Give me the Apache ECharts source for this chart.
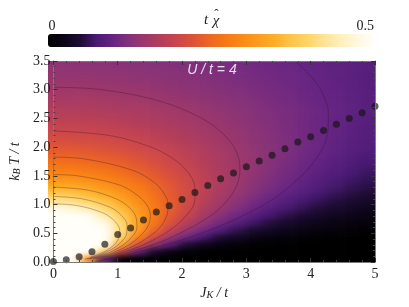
<!DOCTYPE html>
<html><head><meta charset="utf-8">
<script src="https://cdn.jsdelivr.net/npm/echarts@6/dist/echarts.min.js"></script>
<style>
html,body{margin:0;padding:0;background:#fff;}
#wrap{position:relative;width:409px;height:307px;}
#hmClip{position:absolute;left:48px;top:61px;width:327px;height:201px;overflow:hidden;}
#hm{position:absolute;left:-48px;top:-61px;width:409px;height:307px;filter:url(#sm);}
#c{position:absolute;left:0;top:0;width:409px;height:307px;}
</style>
</head><body>
<svg width="0" height="0" style="position:absolute"><filter id="sm" x="-5%" y="-5%" width="110%" height="110%" color-interpolation-filters="sRGB"><feGaussianBlur stdDeviation="5.5 2.6"/></filter></svg>
<div id="wrap"><div id="hmClip"><div id="hm"></div></div><div id="c"></div></div>
<script>
// ---------------- data ----------------
const jCenters = [0.125,0.375,0.625,0.875,1.125,1.375,1.625,1.875,2.125,2.375,2.625,2.875,3.125,3.375,3.625,3.875,4.125,4.375,4.625,4.875];
const tCenters = [0.0625,0.1875,0.3125,0.4375,0.5625,0.6875,0.8125,0.9375,1.0625,1.1875,1.3125,1.4375,1.5625,1.6875,1.8125,1.9375,2.0625,2.1875,2.3125,2.4375,2.5625,2.6875,2.8125,2.9375,3.0625,3.1875,3.3125,3.4375];
// t*chi, one row per T (bottom -> top), columns follow jCenters
const chiRows = [
[3.80,0.786,0.304,0.094,0.0096,0.0003,0,0,0,0,0,0,0,0,0,0,0,0,0,0],
[2.209,1.267,0.684,0.382,0.203,0.100,0.045,0.018,0.0067,0.0022,0.0006,0,0,0,0,0,0,0,0,0],
[1.409,1.097,0.760,0.510,0.334,0.216,0.137,0.085,0.051,0.030,0.017,0.0094,0.0049,0.0025,0.0012,0.0006,0.0003,0.0001,0,0],
[1.024,0.893,0.710,0.537,0.395,0.286,0.205,0.146,0.103,0.072,0.050,0.034,0.023,0.015,0.0098,0.0062,0.0039,0.0024,0.0014,0.0008],
[0.803,0.736,0.632,0.518,0.411,0.320,0.246,0.189,0.144,0.109,0.082,0.062,0.046,0.034,0.025,0.018,0.013,0.0094,0.0066,0.0046],
[0.659,0.622,0.558,0.482,0.403,0.331,0.268,0.216,0.173,0.138,0.110,0.087,0.069,0.054,0.042,0.033,0.026,0.020,0.015,0.012],
[0.559,0.536,0.495,0.442,0.385,0.328,0.276,0.230,0.191,0.158,0.130,0.107,0.088,0.072,0.059,0.048,0.039,0.032,0.026,0.021],
[0.485,0.470,0.442,0.405,0.362,0.318,0.276,0.237,0.202,0.172,0.145,0.123,0.104,0.087,0.073,0.062,0.052,0.043,0.036,0.030],
[0.428,0.418,0.398,0.371,0.339,0.304,0.270,0.237,0.207,0.180,0.156,0.134,0.116,0.099,0.085,0.073,0.063,0.054,0.046,0.039],
[0.384,0.376,0.361,0.341,0.317,0.289,0.262,0.234,0.208,0.184,0.162,0.142,0.125,0.109,0.095,0.083,0.072,0.063,0.055,0.047],
[0.347,0.342,0.331,0.315,0.296,0.274,0.252,0.229,0.206,0.185,0.165,0.147,0.131,0.116,0.103,0.091,0.080,0.071,0.062,0.055],
[0.317,0.313,0.304,0.292,0.277,0.260,0.241,0.222,0.203,0.184,0.167,0.150,0.135,0.121,0.109,0.097,0.087,0.077,0.069,0.062],
[0.292,0.288,0.282,0.272,0.260,0.246,0.230,0.214,0.198,0.182,0.166,0.151,0.138,0.125,0.113,0.102,0.092,0.083,0.075,0.067],
[0.270,0.268,0.262,0.255,0.245,0.233,0.220,0.206,0.192,0.178,0.164,0.151,0.139,0.127,0.116,0.106,0.096,0.087,0.079,0.072],
[0.252,0.250,0.245,0.239,0.231,0.221,0.210,0.198,0.186,0.174,0.162,0.150,0.139,0.128,0.118,0.108,0.099,0.091,0.083,0.076],
[0.235,0.234,0.230,0.225,0.218,0.210,0.201,0.191,0.180,0.170,0.159,0.148,0.138,0.128,0.119,0.110,0.101,0.094,0.086,0.079],
[0.221,0.220,0.217,0.213,0.207,0.200,0.192,0.183,0.174,0.165,0.155,0.146,0.137,0.128,0.119,0.111,0.103,0.095,0.088,0.082],
[0.209,0.207,0.205,0.201,0.196,0.191,0.184,0.176,0.168,0.160,0.152,0.143,0.135,0.127,0.119,0.111,0.104,0.097,0.090,0.084],
[0.197,0.196,0.194,0.191,0.187,0.182,0.176,0.170,0.163,0.155,0.148,0.140,0.133,0.125,0.118,0.111,0.104,0.098,0.091,0.085],
[0.187,0.186,0.185,0.182,0.178,0.174,0.169,0.163,0.157,0.151,0.144,0.137,0.130,0.124,0.117,0.110,0.104,0.098,0.092,0.087],
[0.178,0.177,0.176,0.174,0.170,0.167,0.162,0.157,0.152,0.146,0.140,0.134,0.128,0.122,0.116,0.110,0.104,0.098,0.093,0.087],
[0.170,0.169,0.168,0.166,0.163,0.160,0.156,0.152,0.147,0.142,0.136,0.131,0.125,0.120,0.114,0.109,0.103,0.098,0.093,0.088],
[0.162,0.162,0.161,0.159,0.156,0.154,0.150,0.146,0.142,0.137,0.133,0.128,0.123,0.117,0.112,0.107,0.102,0.097,0.092,0.088],
[0.155,0.155,0.154,0.152,0.150,0.148,0.145,0.141,0.137,0.133,0.129,0.125,0.120,0.115,0.111,0.106,0.101,0.097,0.092,0.088],
[0.149,0.149,0.148,0.146,0.145,0.142,0.139,0.136,0.133,0.129,0.125,0.121,0.117,0.113,0.109,0.104,0.100,0.096,0.091,0.087],
[0.143,0.143,0.142,0.141,0.139,0.137,0.135,0.132,0.129,0.126,0.122,0.118,0.115,0.111,0.107,0.103,0.099,0.095,0.091,0.087],
[0.138,0.137,0.137,0.136,0.134,0.132,0.130,0.128,0.125,0.122,0.119,0.115,0.112,0.108,0.105,0.101,0.097,0.094,0.090,0.086],
[0.133,0.133,0.132,0.131,0.130,0.128,0.126,0.124,0.121,0.119,0.116,0.113,0.109,0.106,0.103,0.099,0.096,0.092,0.089,0.086]
];
// contour lines [J, T]
const contour005 = [[5,1.29],[4.8,1.2],[4.33,1.0],[3.79,0.8],[3.18,0.6],[2.47,0.4],[1.916,0.25],[1.3,0.12],[0.87,0.05],[0.7,0]];
const contour010 = [[3.756,3.5],[4.03,3.2],[4.2,2.9],[4.275,2.6],[4.27,2.3],[4.193,2.0],[4.02,1.7],[3.76,1.4],[3.425,1.1],[2.935,0.8],[2.53,0.6],[2.04,0.4],[1.584,0.25],[1.11,0.12],[0.81,0.05],[0.68,0]];
const contour015 = [[0,3.044],[0.757,3.0],[1.661,2.8],[2.31,2.5],[2.669,2.2],[2.853,1.9],[2.90,1.6],[2.839,1.3],[2.647,1.0],[2.44,0.8],[2.137,0.6],[1.78,0.4],[1.415,0.25],[1.01,0.12],[0.75,0.05],[0.66,0]];
const contour020 = [[0,2.283],[0.889,2.2],[1.518,2.0],[1.86,1.8],[2.065,1.6],[2.178,1.4],[2.203,1.2],[2.184,1.0],[2.058,0.8],[1.87,0.6],[1.58,0.4],[1.29,0.25],[0.93,0.12],[0.69,0.05],[0.64,0]];
const contour025 = [[0,1.826],[0.454,1.8],[1.225,1.6],[1.552,1.4],[1.717,1.2],[1.783,1.0],[1.761,0.8],[1.655,0.6],[1.435,0.4],[1.19,0.25],[0.871,0.12],[0.621,0.05]];
const contour030 = [[0,1.522],[0.379,1.5],[1.004,1.35],[1.259,1.2],[1.449,1.0],[1.508,0.8],[1.459,0.6],[1.297,0.4],[1.097,0.25],[0.818,0.12],[0.565,0.05]];
const contour035 = [[0,1.305],[0.544,1.25],[0.976,1.1],[1.179,0.95],[1.278,0.8],[1.299,0.6],[1.19,0.4],[1.018,0.25],[0.768,0.12],[0.522,0.05]];
const contour040 = [[0,1.1415],[0.445,1.1],[0.889,0.95],[1.066,0.8],[1.145,0.65],[1.141,0.5],[1.055,0.35],[0.904,0.22],[0.722,0.12],[0.487,0.05]];
const contour045 = [[0,1.015],[0.384,0.98],[0.78,0.85],[0.964,0.7],[1.032,0.55],[1.01,0.4],[0.924,0.28],[0.775,0.17],[0.57,0.08]];
// maximum locus (black dots)
const dotJ = [0,0.2,0.4,0.6,0.8,1.0,1.2,1.4,1.6,1.8,2.0,2.2,2.4,2.6,2.8,3.0,3.2,3.4,3.6,3.8,4.0,4.2,4.4,4.6,4.8,5.0];
const dotT = [0.01,0.04,0.09,0.18,0.31,0.48,0.59,0.73,0.87,0.98,1.09,1.21,1.33,1.45,1.55,1.66,1.76,1.86,1.97,2.09,2.18,2.29,2.40,2.50,2.60,2.71];
const colorbarRange = [0, 0.5];
const xRange = [0, 5];
const yRange = [0, 3.5];

// ---------------- styling ----------------
const paletteStops = ['#000000','#0c0518','#1e0c36','#4a1a74','#662483','#84317a','#9e386a','#b43e5a','#cc474b','#de5436','#ee6722','#f77a16','#fa8b18','#fc9e20','#fdb028','#fec54c','#fed566','#ffe396','#fff0bc','#fff8dc','#fffef8'];
const SERIF = 'Liberation Serif';
const GRID = {left: 48, right: 34, top: 61, bottom: 45};
const PLOT_W = 409 - GRID.left - GRID.right, PLOT_H = 307 - GRID.top - GRID.bottom;
const EXT = 16; // px of extra heatmap beyond the frame (hidden by clipping; keeps the smoothing even at the edges)

const cells = [];
chiRows.forEach((row, i) => row.forEach((v, k) => cells.push([jCenters[k], tCenters[i], v])));
const dJ = jCenters[1] - jCenters[0];
const dT = tCenters[1] - tCenters[0];
const dots = dotJ.map((j, i) => [j, dotT[i]]);
const contours = [contour005, contour010, contour015, contour020, contour025, contour030, contour035, contour040, contour045];

// ---------- heatmap layer (smoothed, clipped to the frame) ----------
const hm = echarts.init(document.getElementById('hm'), null, {renderer: 'canvas'});
const xPad = EXT * (xRange[1] - xRange[0]) / PLOT_W;
const yPad = EXT * (yRange[1] - yRange[0]) / PLOT_H;
hm.setOption({
  animation: false,
  grid: {left: GRID.left - EXT, right: GRID.right - EXT, top: GRID.top - EXT, bottom: GRID.bottom - EXT},
  xAxis: {type: 'value', min: xRange[0] - xPad, max: xRange[1] + xPad, show: false},
  yAxis: {type: 'value', min: yRange[0] - yPad, max: yRange[1] + yPad, show: false},
  visualMap: {type: 'continuous', show: false, min: colorbarRange[0], max: colorbarRange[1], dimension: 2, seriesIndex: 0,
    inRange: {color: paletteStops}, outOfRange: {color: '#ffffff'}},
  series: [{
    type: 'custom', data: cells, clip: true,
    renderItem: (params, api) => {
      const j = api.value(0), t = api.value(1), cs = params.coordSys;
      const p0 = api.coord([j - dJ / 2, t + dT / 2]);
      const p1 = api.coord([j + dJ / 2, t - dT / 2]);
      let x0 = p0[0], x1 = p1[0], y0 = p0[1], y1 = p1[1];
      if (j === jCenters[0]) x0 = cs.x;
      if (j === jCenters[jCenters.length - 1]) x1 = cs.x + cs.width;
      if (t === tCenters[tCenters.length - 1]) y0 = cs.y;
      if (t === tCenters[0]) y1 = cs.y + cs.height;
      return {type: 'rect', shape: {x: x0, y: y0, width: x1 - x0 + 0.6, height: y1 - y0 + 0.6}, style: {fill: api.visual('color')}};
    }
  }]
});

// ---------- main layer: frame, contours, dots, colour bar, texts ----------
const chart = echarts.init(document.getElementById('c'), null, {renderer: 'canvas'});
const frameAxis = (pos, isX) => ({
  type: 'value', position: pos, min: isX ? xRange[0] : yRange[0], max: isX ? xRange[1] : yRange[1],
  interval: isX ? 1 : 0.5, z: 10,
  axisLine: {show: true, onZero: false, lineStyle: {color: '#7a7a7a', width: 1}},
  axisTick: {show: true, inside: true, length: 4, lineStyle: {color: '#333'}},
  minorTick: {show: true, splitNumber: 5, length: 2, lineStyle: {color: '#444'}},
  splitLine: {show: false}, minorSplitLine: {show: false},
  axisLabel: {show: false}
});
const nameRich = {
  i: {fontFamily: SERIF, fontStyle: 'italic', fontSize: 14, color: '#222', lineHeight: 16, verticalAlign: 'bottom'},
  s: {fontFamily: SERIF, fontStyle: 'italic', fontSize: 10, color: '#222', lineHeight: 12, verticalAlign: 'bottom'}
};
const xBottom = Object.assign(frameAxis('bottom', true), {
  axisLabel: {show: true, margin: 5, fontFamily: SERIF, fontSize: 14, color: '#222', showMinLabel: true, showMaxLabel: true, hideOverlap: false},
  name: '{i|J}{s|K}{i| / t}', nameLocation: 'middle', nameGap: 21, nameTextStyle: {rich: nameRich}
});
const yLeft = Object.assign(frameAxis('left', false), {
  axisLabel: {show: true, margin: 3, fontFamily: SERIF, fontSize: 14, color: '#222', formatter: v => v.toFixed(1), showMinLabel: true, showMaxLabel: true, hideOverlap: false},
  name: '{i|k}{s|B}{i| T / t}', nameLocation: 'middle', nameGap: 26, nameRotate: 90, nameTextStyle: {rich: nameRich}
});
const contourSeries = contours.map(pts => ({
  type: 'line', data: pts, showSymbol: false, symbol: 'none', smooth: 0.35, clip: true, z: 3, silent: true,
  lineStyle: {color: 'rgba(45,15,35,0.38)', width: 0.8}
}));

chart.setOption({
  animation: false,
  backgroundColor: 'transparent',
  grid: Object.assign({containLabel: false}, GRID),
  xAxis: [xBottom, frameAxis('top', true)],
  yAxis: [yLeft, frameAxis('right', false)],
  visualMap: {
    type: 'continuous', min: colorbarRange[0], max: colorbarRange[1], seriesIndex: 0,
    orient: 'horizontal', left: 48, top: 34, itemWidth: 13, itemHeight: 325, padding: 0,
    calculable: false, hoverLink: false, text: null,
    inRange: {color: paletteStops}, outOfRange: {color: '#ffffff'}
  },
  series: [
    {type: 'custom', data: [], renderItem: () => null, silent: true}
  ].concat(contourSeries).concat([
    {type: 'scatter', data: dots, symbol: 'circle', symbolSize: 7, z: 5, clip: true,
      itemStyle: {color: 'rgba(22,22,22,0.85)'}}
  ]),
  graphic: [
    {type: 'text', x: 206, y: 20, style: {text: 't', font: 'italic 15px ' + SERIF, fill: '#222', textAlign: 'center', textVerticalAlign: 'middle', verticalAlign: 'middle'}},
    {type: 'text', x: 216, y: 21, style: {text: 'χ', font: 'italic 15px ' + SERIF, fill: '#222', textAlign: 'center', textVerticalAlign: 'middle', verticalAlign: 'middle'}},
    {type: 'text', x: 216.5, y: 15, style: {text: 'ˆ', font: '13px ' + SERIF, fill: '#222', textAlign: 'center', textVerticalAlign: 'middle', verticalAlign: 'middle'}},
    {type: 'text', x: 52, y: 26, style: {text: '0', font: '14px ' + SERIF, fill: '#222', textAlign: 'center', textVerticalAlign: 'middle', verticalAlign: 'middle'}},
    {type: 'text', x: 374, y: 26, style: {text: '0.5', font: '14px ' + SERIF, fill: '#222', textAlign: 'right', textVerticalAlign: 'middle', verticalAlign: 'middle'}},
    {type: 'text', x: 212, y: 70, z: 20, style: {text: 'U / t = 4', font: 'italic 14px Liberation Sans', fill: '#e8dcec', textAlign: 'center', textVerticalAlign: 'middle', verticalAlign: 'middle'}}
  ]
});
</script></body></html>
